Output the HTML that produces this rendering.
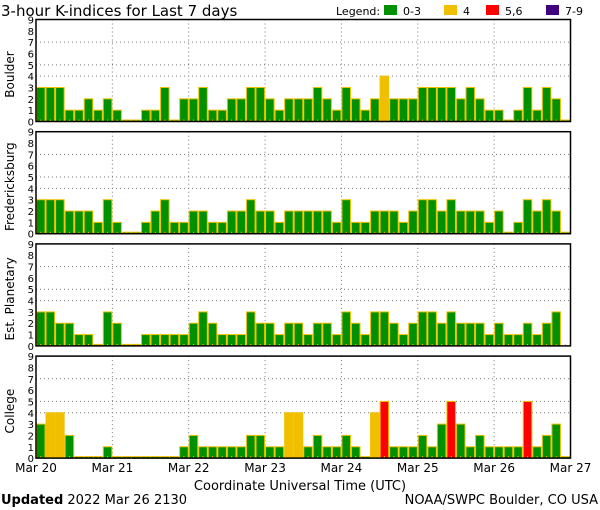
<!DOCTYPE html>
<html><head><meta charset="utf-8"><style>
body{margin:0;background:#fff;}
svg{display:block;font-family:"DejaVu Sans","Liberation Sans",sans-serif;}
</style></head><body>
<svg id="c" width="600" height="510" viewBox="0 0 600 510" xmlns="http://www.w3.org/2000/svg">
<text x="1" y="16" font-size="15">3-hour K-indices for Last 7 days</text>
<g font-size="11">
<text x="336" y="15">Legend:</text>
<rect x="384" y="5" width="13" height="10" fill="#009000"/><text x="403" y="15">0-3</text>
<rect x="444" y="5" width="13" height="10" fill="#f0c000"/><text x="463" y="15">4</text>
<rect x="486" y="5" width="13" height="10" fill="#ff0000"/><text x="505" y="15">5,6</text>
<rect x="546" y="5" width="13" height="10" fill="#400080"/><text x="565" y="15">7-9</text>
</g>
<text x="300" y="490" font-size="13" text-anchor="middle">Coordinate Universal Time (UTC)</text>
<text x="1" y="504" font-size="13"><tspan font-weight="bold">Updated</tspan> 2022 Mar 26 2130</text>
<text x="598" y="504" font-size="13" text-anchor="end">NOAA/SWPC Boulder, CO USA</text>
</svg>
<script>
const stations = ["Boulder","Fredericksburg","Est. Planetary","College"];
const days = ["Mar 20","Mar 21","Mar 22","Mar 23","Mar 24","Mar 25","Mar 26","Mar 27"];
const yTicks = [0,1,2,3,4,5,6,7,8,9];
const boulder = [3,3,3,1,1,2,1,2, 1,0,0,1,1,3,0,2, 2,3,1,1,2,2,3,3, 2,1,2,2,2,3,2,1, 3,2,1,2,4,2,2,2, 3,3,3,3,2,3,2,1, 1,0,1,3,1,3,2,0];
const fredericksburg = [3,3,3,2,2,2,1,3, 1,0,0,1,2,3,1,1, 2,2,1,1,2,2,3,2, 2,1,2,2,2,2,2,1, 3,1,1,2,2,2,1,2, 3,3,2,3,2,2,2,1, 2,0,1,3,2,3,2,0];
const planetary = [3,3,2,2,1,1,0,3, 2,0,0,1,1,1,1,1, 2,3,2,1,1,1,3,2, 2,1,2,2,1,2,2,1, 3,2,1,3,3,2,1,2, 3,3,2,3,2,2,2,1, 2,1,1,2,1,2,3,null];
const college = [3,4,4,2,0,0,0,1, 0,0,0,0,0,0,0,1, 2,1,1,1,1,1,2,2, 1,1,4,4,1,2,1,1, 2,1,0,4,5,1,1,1, 2,1,3,5,3,1,2,1, 1,1,1,5,1,2,3,0];
const series = [boulder,fredericksburg,planetary,college];

const NS="http://www.w3.org/2000/svg";
const svg=document.getElementById('c');
const X0=36, X1=570.5, PH=102, N=56;
const xScale=i=>X0+(X1-X0)*i/N;
const dayX=d=>X0+(X1-X0)*d/7;
function mk(t,a,p){const e=document.createElementNS(NS,t);for(const k in a)e.setAttribute(k,a[k]);(p||svg).appendChild(e);return e;}
function col(v){return v<=3?"#009000":v==4?"#f0c000":v<=6?"#ff0000":"#400080";}

stations.forEach((name,p)=>{
  const top=19.5+112.2*p, bot=top+PH;
  const yScale=v=>bot-v*PH/9;
  const g=mk('g',{});
  
  
  [4,5,7].forEach(v=>{const l=mk('line',{x1:X0,x2:X1,y1:yScale(v),y2:yScale(v),stroke:"#777","stroke-dasharray":"1,3"},g);
    });
  for(let d=1;d<7;d++){const l=mk('line',{x1:dayX(d),x2:dayX(d),y1:top,y2:bot,stroke:"#777","stroke-dasharray":"1,3"},g);
    }
  series[p].forEach((v,i)=>{
    const x=xScale(i), w=(X1-X0)/N;
    if(v===null){mk('line',{x1:x+w/2,x2:x+w/2,y1:bot-2,y2:bot,stroke:"#f0c000"},g);return;}
    const h=Math.max(v*PH/9,1.5);
    const r=mk('rect',{x:x+0.5,y:bot-h,width:w-1,height:h,fill:col(v),stroke:"#f0c000","stroke-width":1},g);
    
    
    mk('line',{x1:x+w/2,x2:x+w/2,y1:bot-2,y2:bot,stroke:"#f0c000"},g);
  });
  const f=mk('rect',{x:X0,y:top,width:X1-X0,height:PH,fill:"none",stroke:"#000","stroke-width":1.5},g);
  
  yTicks.forEach(v=>{const t=mk('text',{x:34,y:yScale(v)+4,"font-size":10,"text-anchor":"end"},g);t.textContent=v;
    });
  const yl=mk('text',{x:0,y:0,"font-size":12,"text-anchor":"middle",transform:`translate(14,${top+PH/2+4}) rotate(-90)`},g);
  yl.textContent=name;
  
  
});
days.forEach((d,i)=>{const t=mk('text',{x:dayX(i),y:472,"font-size":12,"text-anchor":"middle"});t.textContent=d;
  });
</script>
</body></html>
